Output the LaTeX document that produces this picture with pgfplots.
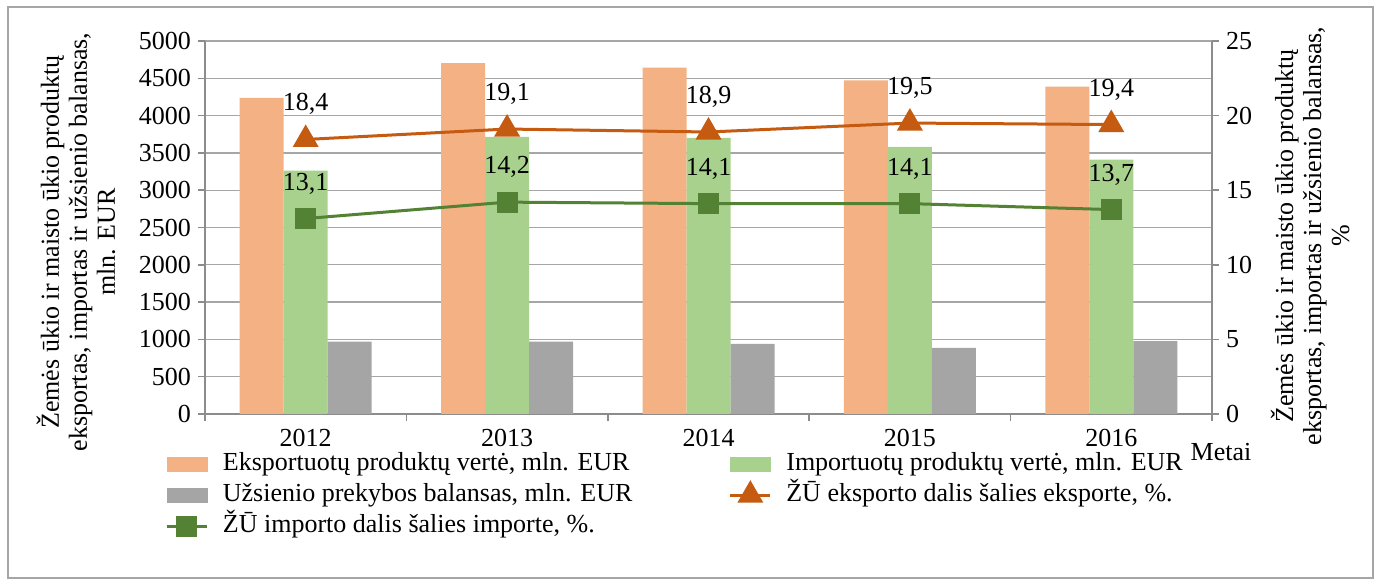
\documentclass[border=0pt]{standalone}
\usepackage{fontspec}
\IfFontExistsTF{LiberationSerif-Regular.ttf}{%
  \setmainfont{LiberationSerif}[Extension=.ttf, UprightFont=*-Regular, BoldFont=*-Bold, ItalicFont=*-Italic, BoldItalicFont=*-BoldItalic]}{%
  \setmainfont{Liberation Serif}}
\usepackage{pgfplots}
\pgfplotsset{compat=1.18}
\definecolor{exportc}{HTML}{F4B183}
\definecolor{importc}{HTML}{A9D18E}
\definecolor{balc}{HTML}{A5A5A5}
\definecolor{orangeline}{HTML}{C55A11}
\definecolor{greenline}{HTML}{548235}
\begin{document}
\begin{tikzpicture}[font=\rmfamily\fontsize{13}{14}\selectfont]
\pgfplotsset{
  common/.style={
    scale only axis, width=503.5pt, height=186.5pt,
    xmin=-0.5, xmax=4.5,
    axis line style={draw=black!45, line width=0.8pt, -},
    tick align=outside, major tick length=3.5pt, minor tick length=3.5pt,
    every tick/.style={draw=black!45, line width=0.8pt},
    /pgf/number format/assume math mode=true,
    /pgf/number format/1000 sep={},
    tick label style={black, font=\rmfamily\fontsize{13}{14}\selectfont},
  }
}
\begin{axis}[common,
  ymin=0, ymax=5000,
  axis x line*=bottom, axis y line*=left,
  ybar=0pt, bar width=22pt,
  xtick={0,1,2,3,4}, xticklabels={2012,2013,2014,2015,2016},
  major x tick style={draw=none},
  minor xtick={-0.5,0.5,1.5,2.5,3.5,4.5},
  ytick={0,500,...,5000},
  ymajorgrids, grid style={draw=black!35, line width=0.6pt},
  xticklabel style={inner sep=0pt, yshift=-4pt},
]
\addplot[fill=exportc, draw=none] coordinates {(0,4239) (1,4702) (2,4644) (3,4473) (4,4387)};
\addplot[fill=importc, draw=none] coordinates {(0,3261) (1,3716) (2,3701) (3,3581) (4,3410)};
\addplot[fill=balc, draw=none] coordinates {(0,970) (1,970) (2,940) (3,885) (4,978)};
\end{axis}
\begin{axis}[common,
  ymin=0, ymax=25,
  axis y line*=right, axis x line=none,
  ytick={0,5,...,25},
  legend columns=2,
  legend style={at={(axis description cs:-0.0397,-0.092)}, anchor=north west,
    draw=none, fill=none, inner sep=0pt, row sep=0pt,
    nodes={inner sep=0.25pt, text height=10.5pt, text depth=4.5pt, anchor=west},
    /tikz/every odd column/.append style={column sep=7pt},
    /tikz/every even column/.append style={column sep=48pt}},
  legend cell align=left,
  legend image code/.code={\draw[mark repeat=2,mark phase=2,#1] plot coordinates {(0pt,0pt) (10pt,0pt) (20pt,0pt)};},
  nodes near coords={\pgfmathprintnumber[fixed,fixed zerofill,precision=1,use comma,assume math mode=true]{\pgfplotspointmeta}},
  every node near coord/.append style={black, anchor=south, inner sep=0pt, yshift=11.5pt, font=\rmfamily\fontsize{13}{14}\selectfont},
]
\addlegendimage{legend image code/.code={\fill[exportc] (0pt,-3.5pt) rectangle (20pt,3.5pt);}}
\addlegendentry{Eksportuotų produktų vertė, mln. EUR}
\addlegendimage{legend image code/.code={\fill[importc] (0pt,-3.5pt) rectangle (20pt,3.5pt);}}
\addlegendentry{Importuotų produktų vertė, mln. EUR}
\addlegendimage{legend image code/.code={\fill[balc] (0pt,-3.5pt) rectangle (20pt,3.5pt);}}
\addlegendentry{Užsienio prekybos balansas, mln. EUR}
\addplot[color=orangeline, line width=1.5pt, mark=triangle*, mark size=6pt, mark options={solid, fill=orangeline}]
  coordinates {(0,18.4) (1,19.1) (2,18.9) (3,19.5) (4,19.4)};
\addlegendentry{ŽŪ eksporto dalis šalies eksporte, \%.}
\addplot[color=greenline, line width=1.5pt, mark=square*, mark size=4.5pt, mark options={solid, fill=greenline}]
  coordinates {(0,13.1) (1,14.2) (2,14.1) (3,14.1) (4,13.7)};
\addlegendentry{ŽŪ importo dalis šalies importe, \%.}
\end{axis}
\node at (508pt,-19pt) {Metai};
\node[rotate=90, align=center] at (-64.5pt,86pt) {Žemės ūkio ir maisto ūkio produktų\\eksportas, importas ir užsienio balansas,\\mln. EUR};
\node[rotate=90, align=center] at (552.5pt,89pt) {Žemės ūkio ir maisto ūkio produktų\\eksportas, importas ir užsienio balansas,\\\%};
\draw[black!35, line width=0.8pt] (-98.5pt,-82pt) rectangle (584pt,203.5pt);
\pgfresetboundingbox
\useasboundingbox (-102.5pt,-84pt) rectangle (587.5pt,207pt);
\end{tikzpicture}
\end{document}
